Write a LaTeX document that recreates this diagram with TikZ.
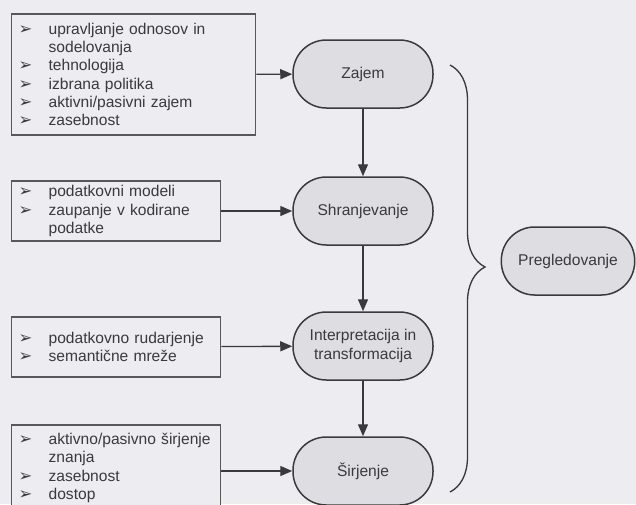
\documentclass[tikz,border=0pt]{standalone}
\usepackage{fontspec}
\setmainfont{Liberation Sans}
\newfontfamily\arrowfont{DejaVu Sans}
\usetikzlibrary{arrows.meta,decorations.pathreplacing}

\definecolor{paper}{RGB}{237,237,241}
\definecolor{stagefill}{RGB}{222,222,226}
\definecolor{ink}{RGB}{58,58,60}

\newcommand{\bul}{\makebox[9mm][l]{\arrowfont\fontsize{14}{15}\selectfont ➢}}
\newcommand{\cont}{\hspace*{9mm}}

\tikzset{
  stage/.style={rectangle, rounded corners=10mm, draw=ink, line width=0.45mm,
    fill=stagefill, minimum width=42mm, minimum height=20.4mm, align=center, text=ink},
  listbox/.style={rectangle, draw=ink!85, line width=0.4mm, fill=paper, anchor=west,
    inner xsep=2.1mm, align=left, text=ink}
}

\begin{document}
\begin{tikzpicture}[x=0.3mm,y=-0.3mm,>={Triangle[length=3.6mm,width=3mm]},
  font=\fontsize{13.3}{15.6}\selectfont]
  \fill[paper] (0,0) rectangle (636,504);
  \useasboundingbox (0,0) rectangle (636,504);

  \node[stage] (zajem)  at (363,74)  {Zajem};
  \node[stage] (shran)  at (363,211) {Shranjevanje};
  \node[stage] (interp) at (363,346) {Interpretacija in\\transformacija};
  \node[stage] (sirj)   at (363,471) {Širjenje};
  \node[stage, minimum width=40mm] (pregl) at (568,261) {Pregledovanje};

  \node[listbox, text width=69mm, minimum height=36.3mm] (zajemlist) at (11,74.5)
    {\bul upravljanje odnosov in\\ \cont sodelovanja\\ \bul tehnologija\\
     \bul izbrana politika\\ \bul aktivni/pasivni zajem\\ \bul zasebnost};
  \node[listbox, text width=58.5mm, minimum height=18mm] (shranlist) at (11,211)
    {\bul podatkovni modeli\\ \bul zaupanje v kodirane\\ \cont podatke};
  \node[listbox, text width=58.5mm, minimum height=18mm] (interplist) at (11,347)
    {\bul podatkovno rudarjenje\\ \bul semantične mreže};
  \node[listbox, text width=58.5mm, minimum height=25.8mm] (sirjlist) at (11,468)
    {\bul aktivno/pasivno širjenje\\ \cont znanja\\ \bul zasebnost\\ \bul dostop};

  \path[->, ink, line width=0.4mm]
  (zajemlist)  edge (zajem)
  (shranlist)  edge (shran)
  (interplist) edge (interp)
  (sirjlist.east |- sirj) edge (sirj)
  (zajem)  edge (shran)
  (shran)  edge (interp)
  (interp) edge (sirj);

  % brace round the four stages
  \coordinate (bracetop) at (450,65);
  \coordinate (bracebot) at (450,492);
  \draw[ink, line width=0.4mm, decorate,
    decoration={brace, amplitude=10.5mm, aspect=0.473}] (bracetop) -- (bracebot);
\end{tikzpicture}
\end{document}
